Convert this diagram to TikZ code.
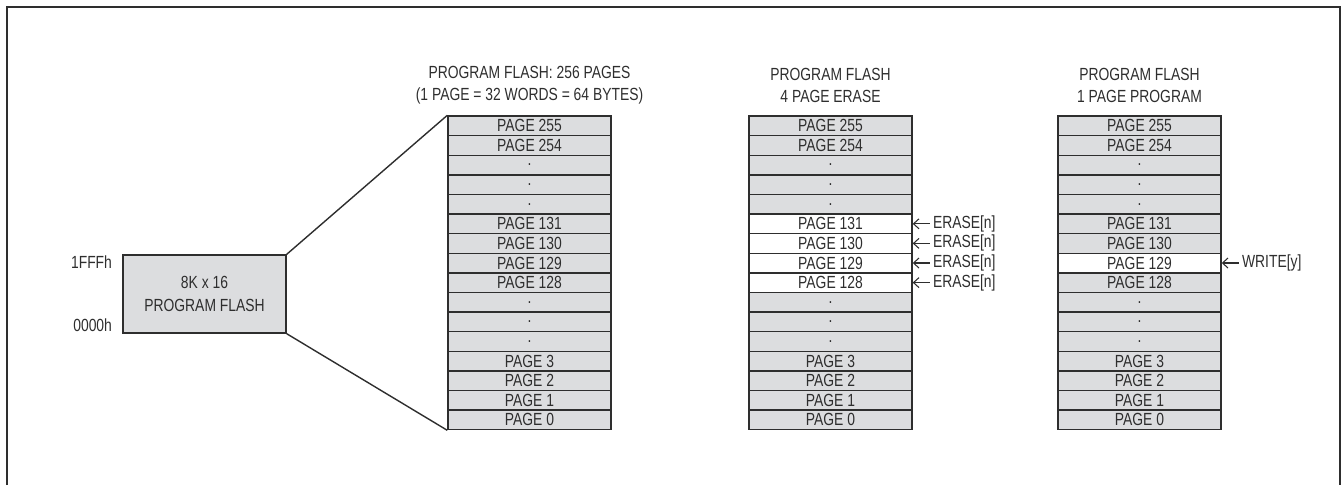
\documentclass[tikz,border=0pt]{standalone}
\usepackage{fontspec}
\setmainfont[FakeStretch=0.79]{Liberation Sans}
\usetikzlibrary{arrows.meta,positioning}
\definecolor{Ink}{HTML}{2E2E2E}
\definecolor{PageGray}{HTML}{DCDDDF}
\tikzset{page/.style={draw=Ink,line width=0.8pt,fill=PageGray,minimum width=32.6mm,minimum height=3.92mm,inner sep=0pt,text=Ink},hit/.style={page,fill=white},title/.style={align=center,text=Ink},addr/.style={inner sep=0pt,text=Ink},note/.style={inner sep=0.6mm,text=Ink},flow/.style={-{Straight Barb[length=1.1mm,width=2mm]},line width=0.6pt,draw=Ink},zoomline/.style={line width=0.8pt,draw=Ink}}

\begin{document}
\begin{tikzpicture}[x=0.2mm,y=-0.2mm,font=\fontsize{10}{12.6}\selectfont]
\useasboundingbox (0,0) rectangle (1343,485);
\draw[Ink,line width=1.1pt] (7,485) |- (1340,7) -- (1340,485);
% the whole flash block
\node[page,minimum width=32.6mm,minimum height=15.6mm,align=center] (flash) at (204.5,294) {8K x 16\\PROGRAM FLASH};
\node[addr,anchor=east] (top) at ([xshift=-2mm,yshift=-1.6mm]flash.north west) {1FFFh};
\node[addr,anchor=east] (bot) at ([xshift=-2mm,yshift=1.6mm]flash.south west) {0000h};
% three page maps
\foreach \lbl [count=\i from 0] in {PAGE 255,PAGE 254,.,.,.,PAGE 131,PAGE 130,PAGE 129,PAGE 128,.,.,.,PAGE 3,PAGE 2,PAGE 1,PAGE 0}{
  \node[page] (a\i) at (529.5,{125.8+19.6*\i}) {\lbl};
  \node[page] (b\i) at (830.5,{125.8+19.6*\i}) {\lbl};
  \node[page] (c\i) at (1139.5,{125.8+19.6*\i}) {\lbl};
}
\node[hit] (b5) at (b5) {PAGE 131};
\node[hit] (b6) at (b6) {PAGE 130};
\node[hit] (b7) at (b7) {PAGE 129};
\node[hit] (b8) at (b8) {PAGE 128};
\node[hit] (c7) at (c7) {PAGE 129};
\node[title] (ta) at ([yshift=6mm]a0.north) {PROGRAM FLASH: 256 PAGES\\(1 PAGE = 32 WORDS = 64 BYTES)};
\node[title] (tb) at ([yshift=6mm]b0.north) {PROGRAM FLASH\\4 PAGE ERASE};
\node[title] (tc) at ([yshift=6mm]c0.north) {PROGRAM FLASH\\1 PAGE PROGRAM};
\draw[zoomline] (flash.north east) -- (a0.north west);
\draw[zoomline] (flash.south east) -- (a15.south west);
% erase and write strobes
\foreach \i in {5,...,8}{
  \node[note,anchor=west] (e\i) at ([xshift=3.4mm]b\i.east) {ERASE[n]};
  \draw[flow] (e\i) -- (b\i);
}
\node[note,anchor=west] (w7) at ([xshift=3.4mm]c7.east) {WRITE[y]};
\draw[flow] (w7) -- (c7);
\end{tikzpicture}
\end{document}
